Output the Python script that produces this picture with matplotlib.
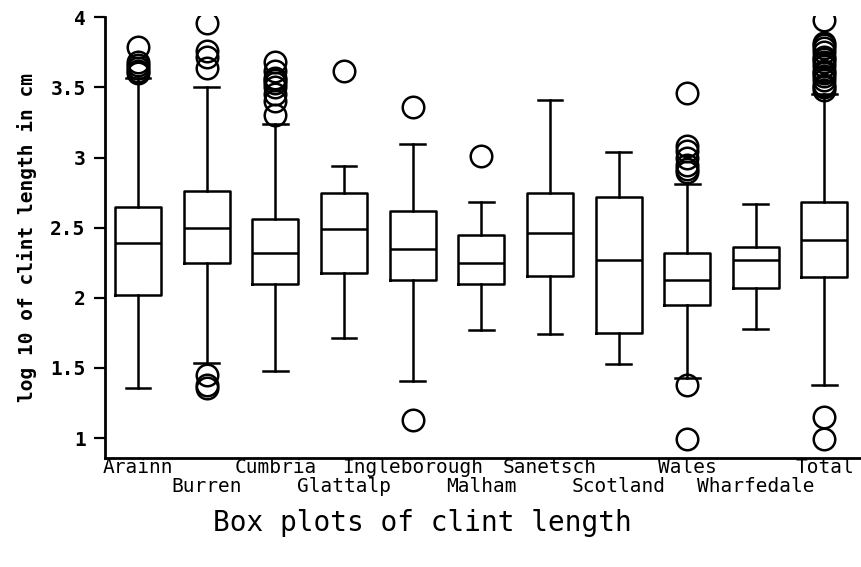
import matplotlib
matplotlib.use("Agg")
from matplotlib import pyplot as plt

sites = ["Arainn", "Burren", "Cumbria", "Glattalp", "Ingleborough", "Malham",
         "Sanetsch", "Scotland", "Wales", "Wharfedale", "Total"]
q1 = [2.02, 2.25, 2.10, 2.175, 2.13, 2.10, 2.155, 1.75, 1.95, 2.07, 2.15]
med = [2.39, 2.50, 2.32, 2.49, 2.35, 2.25, 2.46, 2.27, 2.13, 2.27, 2.41]
q3 = [2.645, 2.76, 2.56, 2.745, 2.62, 2.45, 2.75, 2.72, 2.32, 2.36, 2.68]
wlo = [1.36, 1.535, 1.48, 1.71, 1.41, 1.77, 1.74, 1.53, 1.43, 1.78, 1.38]
whi = [3.57, 3.50, 3.24, 2.94, 3.10, 2.68, 3.41, 3.04, 2.81, 2.67, 3.45]
fliers = [
    [3.60, 3.62, 3.64, 3.66, 3.68, 3.79],
    [3.96, 3.76, 3.72, 3.64, 1.45, 1.38, 1.36],
    [3.30, 3.40, 3.45, 3.50, 3.53, 3.55, 3.57, 3.62, 3.68],
    [3.62],
    [3.36, 1.13],
    [3.01],
    [],
    [],
    [3.46, 3.08, 3.05, 3.00, 2.95, 2.92, 2.90, 1.38, 0.99],
    [],
    [3.98, 3.82, 3.80, 3.78, 3.75, 3.72, 3.70, 3.68, 3.65, 3.62, 3.60,
     3.58, 3.55, 3.52, 3.50, 3.48, 1.15, 0.99],
]
yticks = [1, 1.5, 2, 2.5, 3, 3.5, 4]

stats = []
for i in range(len(sites)):
    stats.append({"label": sites[i], "q1": q1[i], "med": med[i], "q3": q3[i],
                  "whislo": wlo[i], "whishi": whi[i], "fliers": fliers[i]})

fig = plt.figure(figsize=(8.61, 5.67), dpi=100)
ax = fig.add_axes([0.122, 0.192, 0.877, 0.78])

pos = list(range(1, len(sites) + 1))
lw = 1.8
ax.bxp(stats, positions=pos, widths=0.67,
       boxprops=dict(color="black", linewidth=lw),
       medianprops=dict(color="black", linewidth=lw),
       whiskerprops=dict(color="black", linewidth=lw),
       capprops=dict(color="black", linewidth=lw),
       capwidths=0.36,
       flierprops=dict(marker="o", markersize=15.5, markerfacecolor="none",
                       markeredgecolor="black", markeredgewidth=1.8))

ax.set_xlim(0.52, 11.52)
ax.set_ylim(0.857, 4.01)
ax.spines["top"].set_visible(False)
ax.spines["right"].set_visible(False)
ax.spines["left"].set_linewidth(2)
ax.spines["bottom"].set_linewidth(2)
ax.spines["left"].set_bounds(0.857, 4.0)

# staggered site names: odd ones on the first row, even ones below
mono = "DejaVu Sans Mono"
ax.set_xticks(pos[::2], sites[::2], family=mono, fontsize=14)
ax.set_xticks(pos[1::2], sites[1::2], minor=True, family=mono, fontsize=14)
ax.tick_params(axis="x", which="major", length=0, pad=0)
ax.tick_params(axis="x", which="minor", length=0, pad=13.5)

ax.set_yticks(yticks, [f"{t:g}" for t in yticks], family=mono,
              fontsize=14, weight="bold")
ax.tick_params(axis="y", length=8, width=1.6, pad=6)

ax.set_ylabel("log 10 of clint length in cm", family=mono,
              fontsize=14, weight="bold")
ax.yaxis.set_label_coords(-0.09, 0.5)
ax.set_xlabel("Box plots of clint length", family=mono, fontsize=20)
ax.xaxis.set_label_coords(0.42, -0.115)

fig.savefig("out.png", dpi=100)
